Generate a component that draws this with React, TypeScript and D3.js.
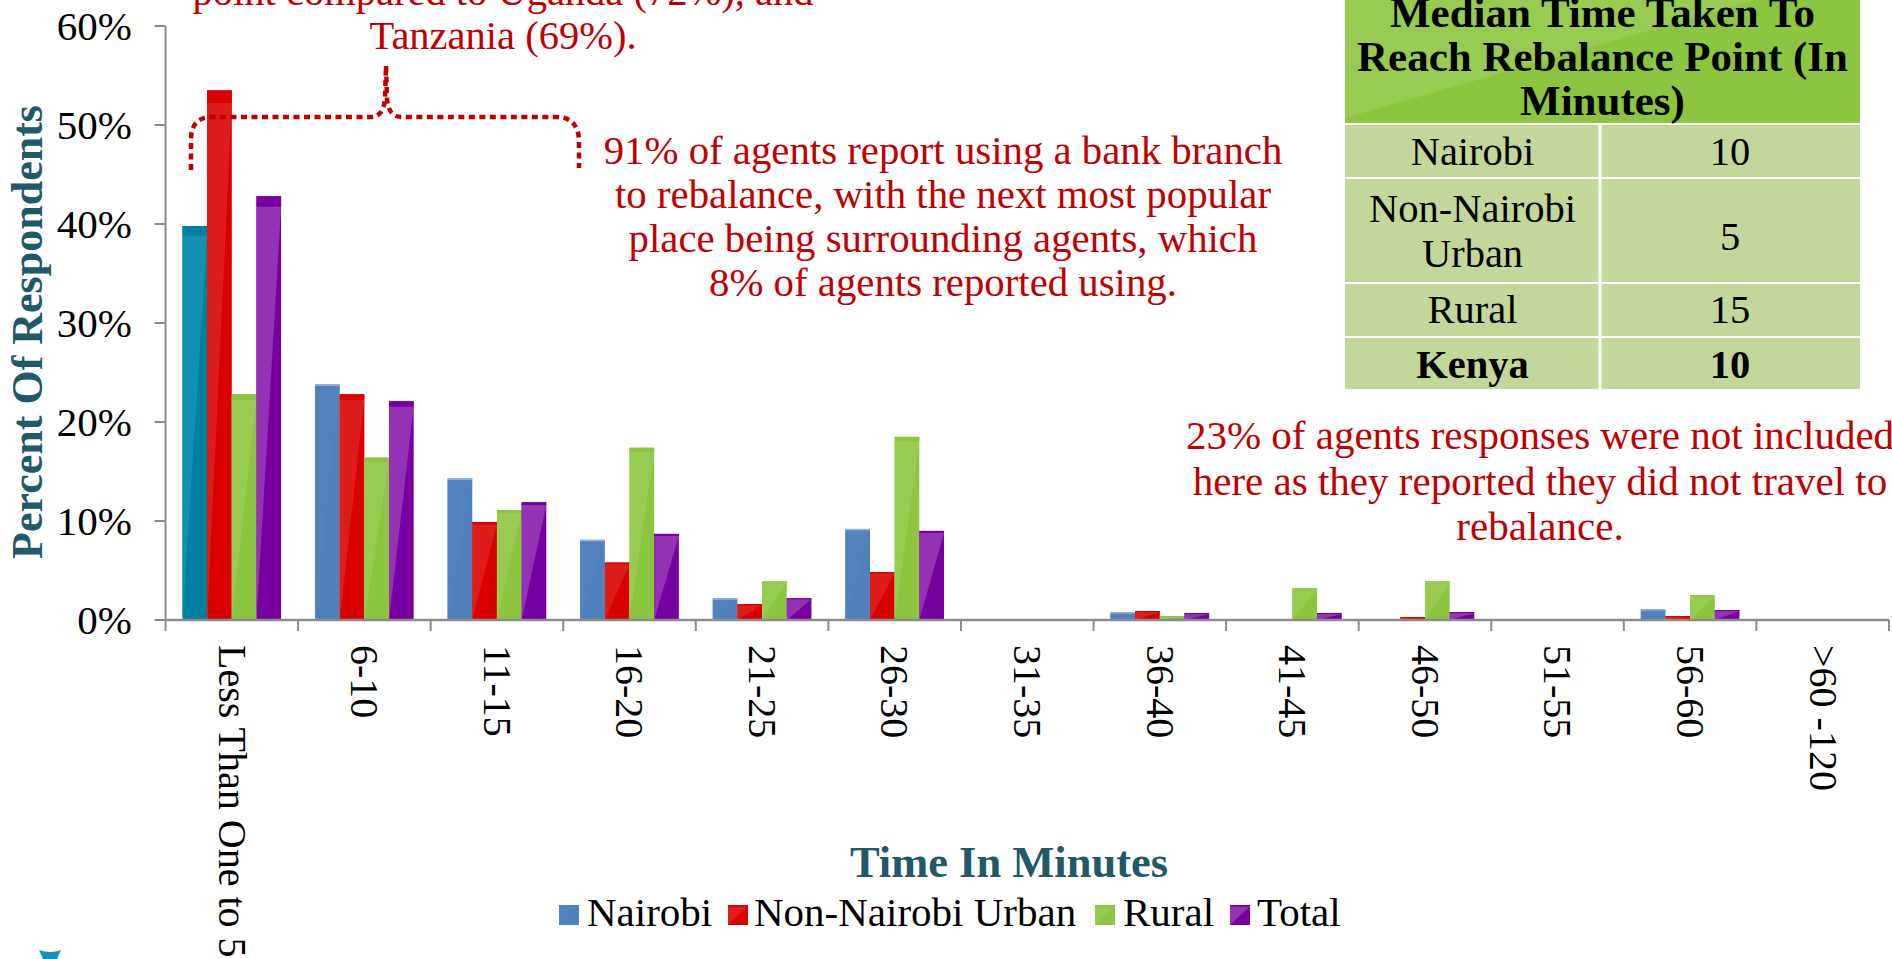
import React from "react";
import * as d3 from "d3";

const categories = ["Less Than One to 5", "6-10", "11-15", "16-20", "21-25", "26-30", "31-35", "36-40", "41-45", "46-50", "51-55", "56-60", ">60 -120"];
const seriesNames = ["Nairobi", "Non-Nairobi Urban", "Rural", "Total"];
const nairobi = [39.8, 23.8, 14.3, 8.1, 2.2, 9.2, 0, 0.8, 0.1, 0, 0, 1.1, 0.1];
const nonNairobiUrban = [53.5, 22.8, 9.9, 5.8, 1.6, 4.85, 0, 0.9, 0.1, 0.3, 0, 0.4, 0];
const rural = [22.8, 16.4, 11.1, 17.4, 3.9, 18.5, 0, 0.4, 3.2, 3.9, 0, 2.5, 0];
const total = [42.8, 22.1, 11.9, 8.7, 2.2, 9.0, 0, 0.7, 0.7, 0.8, 0, 1.0, 0.1];
const yTicks = [0, 10, 20, 30, 40, 50, 60];

const tableHeader = ["Median Time Taken To", "Reach Rebalance Point (In", "Minutes)"];
const tableRegions = [["Nairobi"], ["Non-Nairobi", "Urban"], ["Rural"], ["Kenya"]];
const tableMedians = ["10", "5", "15", "10"];

const noteTop = ["point compared to Uganda (72%), and", "Tanzania (69%)."];
const noteMid = ["91% of agents report using a bank branch", "to rebalance, with the next most popular", "place being surrounding agents, which", "8% of agents reported using."];
const noteRight = ["23% of agents responses were not included", "here as they reported they did not travel to", "rebalance."];

const W = 1892, H = 959;
const FONT = "'Liberation Serif', 'Times New Roman', serif";
const RED_TXT = "#C00000";
const TEAL_TXT = "#215968";

type Style = { base: string; light: string; strip: string; stripFlat?: boolean };
const styles: Style[] = [
  { base: "#4F81BD", light: "#5283BE", strip: "#95B3D7", stripFlat: true },
  { base: "#D80000", light: "#DD1C1C", strip: "#D80000" },
  { base: "#8CC540", light: "#98CB51", strip: "#8CC540" },
  { base: "#7700A0", light: "#9333B3", strip: "#7700A0" },
];
const firstPointStyle: Style = { base: "#007F9F", light: "#1290B2", strip: "#007F9F" };
const seriesValues = [nairobi, nonNairobiUrban, rural, total];

function GlossBar({ x, y, w, h, st }: { x: number; y: number; w: number; h: number; st: Style }) {
  if (h <= 0) return null;
  const s = st.stripFlat ? Math.min(1.5, h * 0.3) : Math.max(h * 0.024, Math.min(1, h * 0.2));
  const top = y + s;
  const bottom = y + h;
  return (
    <g>
      <rect x={x} y={y} width={w} height={h} fill={st.base} />
      {h > 1.5 && <polygon points={`${x},${top} ${x + w},${top} ${x},${bottom}`} fill={st.light} />}
      <rect x={x} y={y} width={w} height={s} fill={st.strip} />
    </g>
  );
}

export default function App() {
  const x0 = 165.5, x1 = 1889, yTop = 26, yBase = 620;
  const y = d3.scaleLinear().domain([0, 60]).range([yBase, yTop]);
  const x = d3.scaleBand<string>().domain(categories).range([x0, x1]).padding(0);
  const bw = x.bandwidth();
  const xs = d3.scaleBand<string>().domain(seriesNames).range([bw * 0.128, bw * 0.872]).padding(0);
  const sw = xs.bandwidth();

  const tblL = 1345, tblR = 1860, tblMid = 1600;
  const rowBounds = [[125, 177], [179, 282], [284, 336], [338, 389]];
  const textBaselines = [[165], [222, 267], [323], [378]];
  const valueBaselines = [165, 250, 323, 378];

  const legendItems = [
    { name: seriesNames[0], sx: 559, tx: 587 },
    { name: seriesNames[1], sx: 728, tx: 754 },
    { name: seriesNames[2], sx: 1095, tx: 1123 },
    { name: seriesNames[3], sx: 1230, tx: 1257 },
  ];

  const bracePath =
    "M191,170 L191,140 Q191,117 212,117 L370,117 Q384,117 385,98 L386,66 " +
    "M386,66 L387,98 Q388,117 402,117 L556,117 Q578,117 579,140 L579,168";

  return (
    <svg width={W} height={H} style={{ position: "absolute", left: 0, top: 0, display: "block", background: "#fff" }} fontFamily={FONT}>
      {/* y axis */}
      <line x1={x0} x2={x0} y1={y(60)} y2={yBase} stroke="#8C8C8C" strokeWidth={2} />
      {yTicks.map((t) => (
        <g key={t}>
          <line x1={x0 - 11} x2={x0} y1={y(t)} y2={y(t)} stroke="#8C8C8C" strokeWidth={2} />
          <text x={132} y={y(t)} dy="0.35em" textAnchor="end" fontSize={41} fill="#000">{t + "%"}</text>
        </g>
      ))}
      <text transform={`translate(42,332) rotate(-90)`} textAnchor="middle" fontSize={44} fontWeight="bold" fill={TEAL_TXT}>Percent Of Respondents</text>

      {/* bars */}
      {categories.map((c, ci) => (
        <g key={c}>
          {seriesNames.map((s, si) => {
            const v = seriesValues[si][ci];
            const st = si === 0 && ci === 0 ? firstPointStyle : styles[si];
            const bx = (x(c) as number) + (xs(s) as number);
            return <GlossBar key={s} x={bx} y={y(v)} w={sw} h={yBase - y(v)} st={st} />;
          })}
        </g>
      ))}

      {/* x axis */}
      <line x1={x0} x2={x1} y1={yBase} y2={yBase} stroke="#8C8C8C" strokeWidth={2.5} />
      {categories.map((c) => (
        <line key={"t" + c} x1={x(c)} x2={x(c)} y1={yBase} y2={yBase + 11} stroke="#8C8C8C" strokeWidth={2} />
      ))}
      <line x1={x1} x2={x1} y1={yBase} y2={yBase + 11} stroke="#8C8C8C" strokeWidth={2} />
      {categories.map((c) => (
        <text key={"l" + c} transform={`translate(${(x(c) as number) + bw / 2},645) rotate(90)`} dy="0.33em" fontSize={40} fill="#000">{c}</text>
      ))}
      <text x={1009} y={877} textAnchor="middle" fontSize={44.5} fontWeight="bold" fill={TEAL_TXT}>Time In Minutes</text>

      {/* legend */}
      {legendItems.map((it, i) => (
        <g key={it.name}>
          <GlossBar x={it.sx} y={905} w={20} h={20} st={{ ...styles[i], stripFlat: true, strip: styles[i].base }} />
          <text x={it.tx} y={926} fontSize={41} fill="#000">{it.name}</text>
        </g>
      ))}

      {/* annotations */}
      <path d={bracePath} fill="none" stroke={RED_TXT} strokeWidth={4.5} strokeDasharray="6 4.5" />
      {noteTop.map((t, i) => (
        <text key={t} x={503} y={5 + i * 44} textAnchor="middle" fontSize={40.5} fill={RED_TXT}>{t}</text>
      ))}
      {noteMid.map((t, i) => (
        <text key={t} x={943} y={164 + i * 44} textAnchor="middle" fontSize={40.8} fill={RED_TXT}>{t}</text>
      ))}
      {noteRight.map((t, i) => (
        <text key={t} x={1540} y={449 + i * 45.5} textAnchor="middle" fontSize={41} fill={RED_TXT}>{t}</text>
      ))}

      {/* table */}
      <rect x={tblL} y={-30} width={tblR - tblL} height={153} fill="#8CC540" />
      <polygon points={`${tblL},-30 ${tblR},-30 ${tblL},118`} fill="#98CB51" />
      {tableHeader.map((t, i) => (
        <text key={t} x={(tblL + tblR) / 2} y={27 + i * 44} textAnchor="middle" fontSize={43} fontWeight="bold" fill="#000">{t}</text>
      ))}
      {rowBounds.map(([a, b], ri) => {
        const bold = ri === 3;
        return (
          <g key={ri}>
            <rect x={tblL} y={a} width={tblMid - 1.5 - tblL} height={b - a} fill="#C4D79B" />
            <rect x={tblMid + 1.5} y={a} width={tblR - tblMid - 1.5} height={b - a} fill="#C4D79B" />
            {tableRegions[ri].map((t, li) => (
              <text key={t} x={(tblL + tblMid) / 2} y={textBaselines[ri][li]} textAnchor="middle" fontSize={40.5} fontWeight={bold ? "bold" : "normal"} fill="#000">{t}</text>
            ))}
            <text x={(tblMid + tblR) / 2} y={valueBaselines[ri]} textAnchor="middle" fontSize={40.5} fontWeight={bold ? "bold" : "normal"} fill="#000">{tableMedians[ri]}</text>
          </g>
        );
      })}

      {/* logo fragment */}
      <path d="M39,950 Q50,954 61,950 L57,959 L43,959 Z" fill="#1592B5" />
    </svg>
  );
}
